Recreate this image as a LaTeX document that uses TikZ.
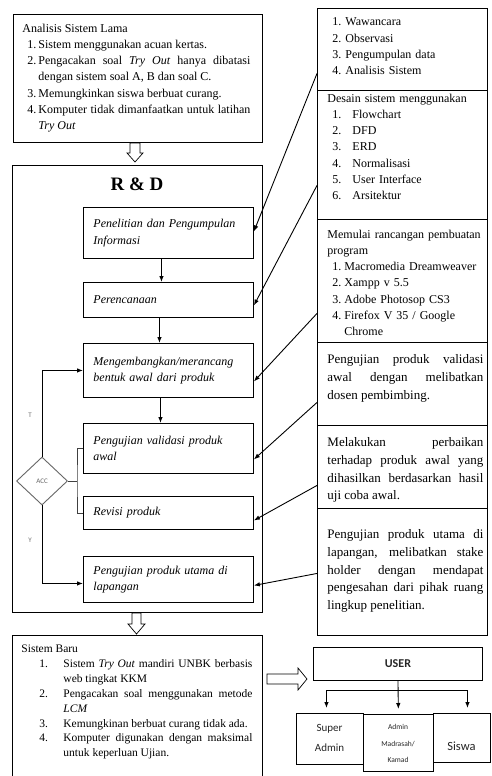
\documentclass[tikz,border=0pt]{standalone}
\usepackage{fontspec}
\setmainfont{Liberation Serif}
\newfontfamily\calfont{Carlito}
\usetikzlibrary{arrows.meta,shapes.geometric}

% numbered line with hanging indent: #1 text indent, #2 number box width, #3 number
\newcommand\numitem[3]{\par\leftskip=#1\noindent\llap{\makebox[#2][l]{#3}}\ignorespaces}
% same, for the very first line of a node (no paragraph break before it)
\newcommand\numfirst[3]{\leftskip=#1\relax\noindent\llap{\makebox[#2][l]{#3}}\ignorespaces}

\begin{document}
\begin{tikzpicture}[x=1pt,y=-1pt,line width=0.9pt,
  frame/.style={draw,anchor=north west,inner sep=0pt},
  txt/.style={anchor=north west,inner sep=0pt,align=left,
    font=\fontsize{12}{16.2}\selectfont},
  jtxt/.style={anchor=north west,inner sep=0pt,align=justify,
    font=\fontsize{12}{16.2}\selectfont},
  bigtxt/.style={anchor=north west,inner sep=0pt,align=justify,
    font=\fontsize{13}{17.8}\selectfont},
  stepbox/.style={draw,anchor=north west,text width=150pt,inner xsep=10pt,
    inner ysep=0pt,align=left,font=\fontsize{12}{16.5}\selectfont\itshape},
  arr/.style={-{Latex[length=6pt,width=4.5pt]}},
  hollow/.style={draw,line width=0.7pt,fill=white},
  sanslbl/.style={inner sep=0pt,text=black!55,font=\calfont\fontsize{7}{8}\selectfont},
  usertxt/.style={inner sep=0pt,align=center,text=black!85}]

\useasboundingbox (0,0) rectangle (491,776);
\fill[white] (0,0) rectangle (491,776);
\clip (0,0) rectangle (491,776);
\tolerance=9999 \hyphenpenalty=10000 \emergencystretch=2em

% ---------- old system ----------
\node[frame,minimum width=249pt,minimum height=128pt] (lama) at (13,14) {};
\node[jtxt,text width=228pt] (lamaT) at (22,23.5) {%
  \noindent Analisis Sistem Lama
  \numitem{16pt}{11pt}{1.}Sistem menggunakan acuan kertas.
  \numitem{16pt}{11pt}{2.}Pengacakan soal \textit{Try Out} hanya dibatasi\linebreak dengan sistem soal A, B dan soal C.
  \numitem{16pt}{11pt}{3.}Memungkinkan siswa berbuat curang.
  \numitem{16pt}{11pt}{4.}Komputer tidak dimanfaatkan untuk latihan\linebreak \textit{Try Out}\par};

\draw[hollow] (130,143) -- (140,143) -- (140,153) -- (143,153) -- (135,162)
  -- (127,153) -- (130,153) -- cycle;

% ---------- R & D ----------
\node[frame,minimum width=250pt,minimum height=447pt] (rnd) at (12,165) {};
\node[inner sep=0pt,font=\fontsize{19}{22}\selectfont\bfseries] (rndT) at (137,184) {R \& D};

\node[stepbox,minimum height=51pt] (b1) at (83,207) {Penelitian dan Pengumpulan\\Informasi};
\node[stepbox,minimum height=35pt] (b2) at (83,282) {Perencanaan};
\node[stepbox,minimum height=54pt] (b3) at (83,343) {Mengembangkan/merancang\\bentuk awal dari produk};
\node[stepbox,minimum height=50pt] (b4) at (83,423) {Pengujian validasi produk\\awal};
\node[stepbox,minimum height=33pt] (b5) at (83,496) {Revisi produk};
\node[stepbox,minimum height=46pt] (b6) at (83,556) {Pengujian produk utama di\\lapangan};

\draw[arr] ([xshift=-7pt]b1.south) -- ([xshift=-7pt]b2.north);
\draw[arr] ([xshift=-9pt]b2.south) -- ([xshift=-9pt]b3.north);
\draw[arr] ([xshift=-8pt]b3.south) -- ([xshift=-8pt]b4.north);

\node[diamond,draw=black!60,line width=0.9pt,minimum width=51pt,minimum height=48pt,
  inner sep=0pt,text=black!60,font=\calfont\fontsize{7}{8}\selectfont] (acc) at (42,481) {ACC};
\node[sanslbl] (tLbl) at (30,415) {T};
\node[sanslbl] (yLbl) at (30,540) {Y};

\draw[arr] (acc.north) |- (b3.west);
\draw[arr] (acc.south) |- ([yshift=-4pt]b6.west);
\coordinate (brk) at (77,481);
\draw[black!75] (acc.east) -- (brk);
\draw[black!75] (b4.west) -| (brk) |- (b5.west);

\draw[hollow] (132,613) -- (141,613) -- (141,624) -- (145,624) -- (136.5,634)
  -- (128,624) -- (132,624) -- cycle;

% ---------- right column ----------
\node[frame,minimum width=170pt,minimum height=82pt] (colA) at (317,8) {};
\node[frame,minimum width=170pt,minimum height=129pt] (colB) at (317,90) {};
\node[frame,minimum width=170pt,minimum height=123pt] (colC) at (317,219) {};
\node[frame,minimum width=170pt,minimum height=83pt] (colD) at (317,342) {};
\node[frame,minimum width=170pt,minimum height=83pt] (colE) at (317,425) {};
\node[frame,minimum width=170pt,minimum height=127pt] (colF) at (317,508) {};

\node[txt,text width=156pt] (colAT) at (327,17.5) {%
  \numfirst{18pt}{13pt}{1.}Wawancara
  \numitem{18pt}{13pt}{2.}Observasi
  \numitem{18pt}{13pt}{3.}Pengumpulan data
  \numitem{18pt}{13pt}{4.}Analisis Sistem\par};
\node[txt,text width=156pt] (colBT) at (327,93.5) {%
  \noindent Desain sistem menggunakan
  \numitem{25pt}{20pt}{1.}Flowchart
  \numitem{25pt}{20pt}{2.}DFD
  \numitem{25pt}{20pt}{3.}ERD
  \numitem{25pt}{20pt}{4.}Normalisasi
  \numitem{25pt}{20pt}{5.}User Interface
  \numitem{25pt}{20pt}{6.}Arsitektur\par};
\node[txt,text width=156pt] (colCT) at (327,229.5) {%
  \noindent Memulai rancangan pembuatan program
  \numitem{17pt}{12pt}{1.}Macromedia Dreamweaver
  \numitem{17pt}{12pt}{2.}Xampp v 5.5
  \numitem{17pt}{12pt}{3.}Adobe Photosop CS3
  \numitem{17pt}{12pt}{4.}Firefox V 35 / Google\linebreak Chrome\par};
\node[bigtxt,text width=156pt] (colDT) at (327,354) {%
  \noindent Pengujian produk validasi\linebreak awal dengan melibatkan\linebreak dosen pembimbing.\par};
\node[bigtxt,text width=156pt] (colET) at (327,437) {%
  \noindent Melakukan perbaikan\linebreak terhadap produk awal yang\linebreak dihasilkan berdasarkan hasil\linebreak uji coba awal.\par};
\node[bigtxt,text width=156pt] (colFT) at (327,529) {%
  \noindent Pengujian produk utama di\linebreak lapangan, melibatkan stake\linebreak holder dengan mendapat\linebreak pengesahan dari pihak ruang\linebreak lingkup penelitian.\par};

\draw[arr] ([yshift=-24pt]colA.west) -- ([yshift=1.5pt]b1.east);
\draw[arr] ([yshift=-30.5pt]colB.west) -- ([yshift=-5.5pt]b2.east);
\draw[arr] ([yshift=-32.5pt]colC.west) -- ([yshift=-11pt]b3.east);
\draw[arr] ([yshift=-18.5pt]colD.west) -- ([yshift=-11pt]b4.east);
\draw[arr] ([yshift=-18.5pt]colE.west) -- ([yshift=-7.5pt]b5.east);
\draw[arr] ([yshift=-1.5pt]colF.west) -- ([yshift=-6pt]b6.east);

% ---------- new system ----------
\node[frame,minimum width=250pt,minimum height=160pt] (baru) at (12,635) {};
\node[jtxt,text width=231pt,font=\fontsize{11.5}{14.9}\selectfont] (baruT) at (21,644.5) {%
  \noindent Sistem Baru
  \numitem{42pt}{24pt}{1.}Sistem \textit{Try Out} mandiri UNBK berbasis\linebreak web tingkat KKM
  \numitem{42pt}{24pt}{2.}Pengacakan soal menggunakan metode\linebreak \textit{LCM}
  \numitem{42pt}{24pt}{3.}Kemungkinan berbuat curang tidak ada.
  \numitem{42pt}{24pt}{4.}Komputer digunakan dengan maksimal\linebreak untuk keperluan Ujian.\par};

\draw[hollow] (267,674) -- (298,674) -- (298,668) -- (307,679) -- (298,690)
  -- (298,684) -- (267,684) -- cycle;

% ---------- users ----------
\node[frame,minimum width=169pt,minimum height=33pt] (user) at (313,647) {};
\node[usertxt,font=\calfont\bfseries\fontsize{12}{14}\selectfont] (userT) at (user.center) {USER};
\node[frame,minimum width=67pt,minimum height=51pt] (super) at (296,713) {};
\node[frame,minimum width=57pt,minimum height=49pt] (siswa) at (433,713) {};
\node[frame,minimum width=70pt,minimum height=57pt] (admin) at (363,714) {};
\node[usertxt,font=\calfont\fontsize{11}{20}\selectfont] (superT) at (329.5,738) {Super\\Admin};
\node[usertxt,font=\calfont\fontsize{7.5}{16.5}\selectfont] (adminT) at (398,743.5) {Admin\\Madrasah/\\Kamad};
\node[usertxt,font=\calfont\fontsize{12.5}{14}\selectfont] (siswaT) at (461.5,746) {Siswa};

\coordinate (fork) at (user.south |- 0,690);
\draw[arr,shorten >=5pt] (user.south) -- (admin.north);
\draw[arr,shorten >=5pt] (fork) -| ([xshift=-3.5pt]super.north);
\draw[arr,shorten >=5pt] (fork) -| ([xshift=5.5pt]siswa.north);
\end{tikzpicture}
\end{document}
